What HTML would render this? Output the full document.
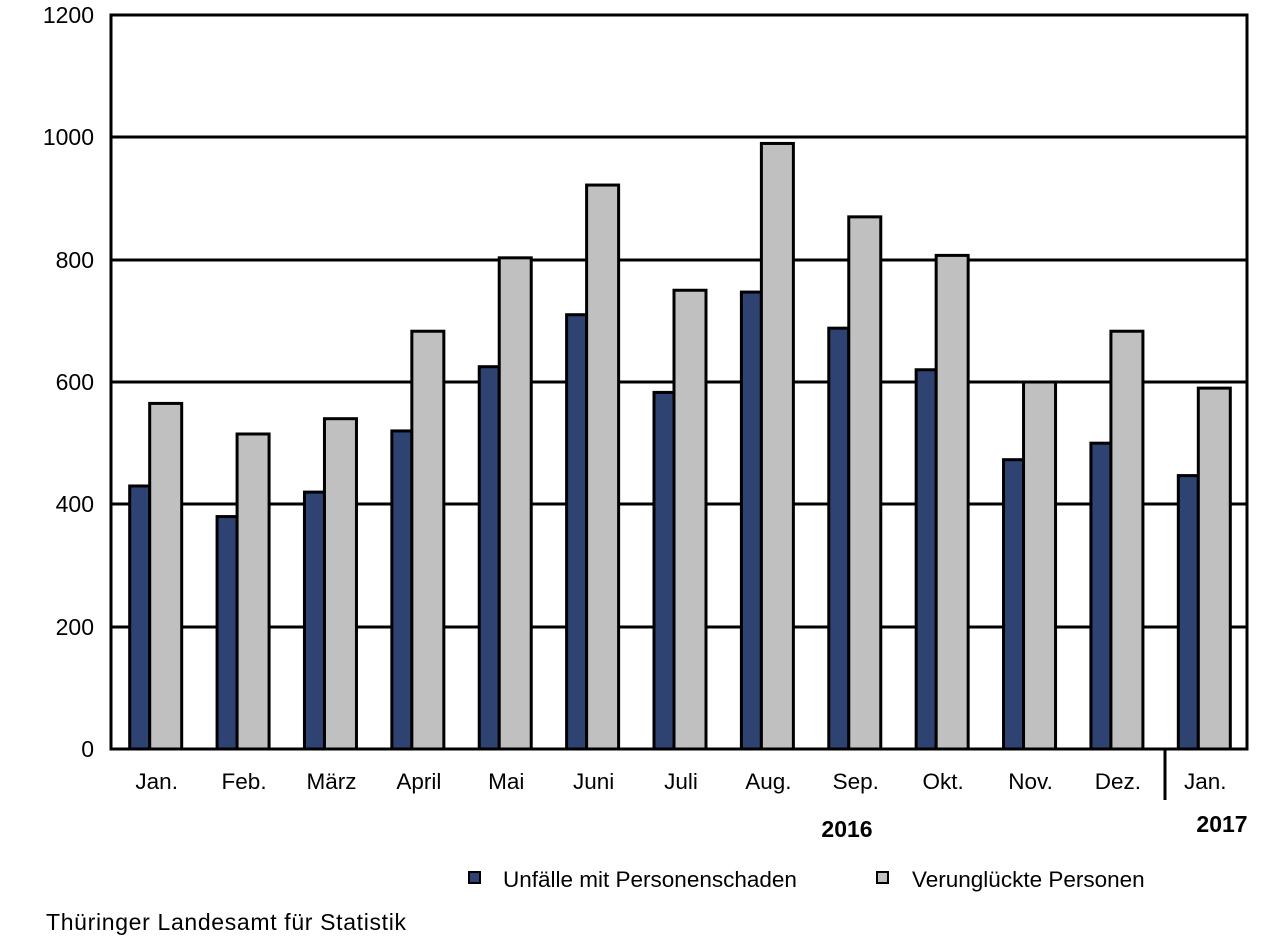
<!DOCTYPE html><html><head><style>body{margin:0;background:#fff}svg{display:block;font-family:"Liberation Sans",sans-serif}</style></head><body>
<svg width="1271" height="938" viewBox="0 0 1271 938">
<g stroke="#000" stroke-width="3">
<line x1="111" y1="137" x2="1247" y2="137"/><line x1="111" y1="260" x2="1247" y2="260"/><line x1="111" y1="382" x2="1247" y2="382"/><line x1="111" y1="504" x2="1247" y2="504"/><line x1="111" y1="627" x2="1247" y2="627"/>
</g>
<g id="bars" stroke="#000" stroke-width="3"></g>
<rect x="111" y="15" width="1136" height="734" fill="none" stroke="#000" stroke-width="3"/>
<line x1="1165" y1="749" x2="1165" y2="800" stroke="#000" stroke-width="3"/>
<g font-size="23" text-anchor="end">
<text x="94" y="23">1200</text><text x="94" y="145">1000</text><text x="94" y="268">800</text><text x="94" y="390">600</text><text x="94" y="512">400</text><text x="94" y="635">200</text><text x="94" y="757">0</text>
</g>
<g id="lbl" font-size="22.5" text-anchor="middle"></g>
<text x="847" y="837" font-size="23" font-weight="bold" text-anchor="middle">2016</text>
<text x="1222" y="832" font-size="23" font-weight="bold" text-anchor="middle">2017</text>
<rect x="469" y="872" width="11" height="11" fill="#2e4371" stroke="#000" stroke-width="2"/>
<text x="503" y="887" font-size="22.5">Unfälle mit Personenschaden</text>
<rect x="877" y="872" width="11" height="11" fill="#c0c0c0" stroke="#000" stroke-width="2"/>
<text x="912" y="887" font-size="22.5">Verunglückte Personen</text>
<text x="46" y="930" font-size="23" textLength="360">Thüringer Landesamt für Statistik</text>
</svg>
<script>
var d=[430,380,420,520,625,710,583,747,688,620,473,500,447],l=[565,515,540,683,803,922,750,990,870,807,600,683,590],
n=["Jan.","Feb.","März","April","Mai","Juni","Juli","Aug.","Sep.","Okt.","Nov.","Dez.","Jan."],s="",t="";
for(var i=0;i<13;i++){var c=111+(i+.5)*1136/13,yd=749-d[i]*734/1200,yl=749-l[i]*734/1200;
s+='<rect x="'+(c-25)+'" y="'+yd+'" width="20" height="'+(749-yd)+'" fill="#2e4371"/>';
s+='<rect x="'+(c-5)+'" y="'+yl+'" width="32" height="'+(749-yl)+'" fill="#c0c0c0"/>';
t+='<text x="'+(c+2)+'" y="789">'+n[i]+'</text>';}
document.getElementById("bars").innerHTML=s;document.getElementById("lbl").innerHTML=t;
</script>
</body></html>
